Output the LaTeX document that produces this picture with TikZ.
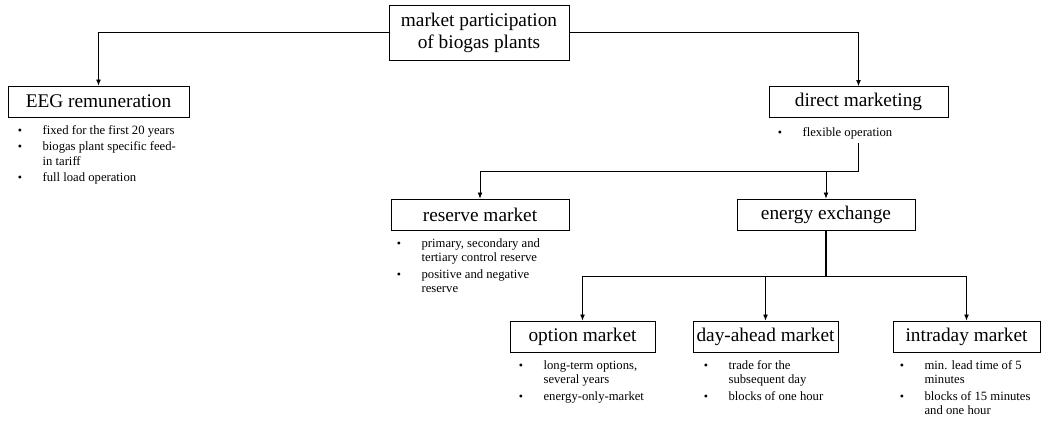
\documentclass[tikz,border=0pt]{standalone}
\usepackage{fontspec}
\setmainfont{Liberation Serif}
\usetikzlibrary{positioning, arrows.meta}

\newcommand{\bul}{\hspace{0.5pt}{\fontsize{9}{9}\selectfont\textbullet}}

\begin{document}
\begin{tikzpicture}[x=0.75pt, y=-0.75pt,
    >={Latex[length=4.5pt, width=3.6pt]},
    box/.style={rectangle, draw, line width=0.6pt, minimum height=23.25pt, inner sep=1pt, font=\fontsize{14.5}{16.5}\selectfont},
    bullets/.style={anchor=north west, inner sep=0pt, font=\fontsize{9.5}{10.6}\selectfont},
    link/.style={line width=0.6pt},
    stem/.style={line width=1.1pt}]
    \useasboundingbox (0,0) rectangle (1041,423);

    % boxes
    \node[box, minimum width=135pt, minimum height=41.25pt, align=center] (market) at (479, 32.5) {market participation\\of biogas plants};
    \node[box, minimum width=135.75pt] (eeg) at (98.5, 101.5) {EEG remuneration};
    \node[box, minimum width=134.25pt] (direct) at (858.5, 102) {direct marketing};
    \node[box, minimum width=133.5pt] (reserve) at (480, 214.5) {reserve market};
    \node[box, minimum width=133.5pt] (exchange) at (826, 214.5) {energy exchange};
    \node[box, minimum width=108.75pt] (option) at (582.5, 336.5) {option market};
    \node[box, minimum width=108.75pt] (dayahead) at (765.5, 336.5) {day-ahead market};
    \node[box, minimum width=110.25pt] (intraday) at (966.5, 336.5) {intraday market};

    % bullet lists
    \node[bullets] (eeglist) at (17, 124) {\begin{tabular}{@{}p{19pt}@{}l@{}}
      \bul & fixed for the first 20 years\\[2pt]
      \bul & biogas plant specific feed-\\
           & in tariff\\[2pt]
      \bul & full load operation
    \end{tabular}};
    \node[bullets] (directlist) at (777, 126) {\begin{tabular}{@{}p{19pt}@{}l@{}}
      \bul & flexible operation
    \end{tabular}};
    \node[bullets] (reservelist) at (396, 237) {\begin{tabular}{@{}p{19pt}@{}l@{}}
      \bul & primary, secondary and\\
           & tertiary control reserve\\[2pt]
      \bul & positive and negative\\
           & reserve
    \end{tabular}};
    \node[bullets] (optionlist) at (518, 359) {\begin{tabular}{@{}p{19pt}@{}l@{}}
      \bul & long-term options,\\
           & several years\\[2pt]
      \bul & energy-only-market
    \end{tabular}};
    \node[bullets] (dayaheadlist) at (703, 359) {\begin{tabular}{@{}p{19pt}@{}l@{}}
      \bul & trade for the\\
           & subsequent day\\[2pt]
      \bul & blocks of one hour
    \end{tabular}};
    \node[bullets] (intradaylist) at (899, 359) {\begin{tabular}{@{}p{19pt}@{}l@{}}
      \bul & min. lead time of 5\\
           & minutes\\[2pt]
      \bul & blocks of 15 minutes\\
           & and one hour
    \end{tabular}};

    % connectors
    \coordinate (directout) at (858.5, 143);
    \coordinate (split1) at (858.5, 171);
    \coordinate (split2) at (826, 276);
    \draw[link, ->] (market.west) -| (eeg.north);
    \draw[link, ->] (market.east) -| (direct.north);
    \draw[stem] (directout) -- (split1);
    \draw[link, ->] (split1) -| (reserve.north);
    \draw[link, ->] (split1 -| exchange.north) -- (exchange.north);
    \draw[stem] (exchange.south) -- (split2);
    \draw[link, ->] (split2) -| (option.north);
    \draw[link, ->] (split2) -| (dayahead.north);
    \draw[link, ->] (split2) -| (intraday.north);
\end{tikzpicture}
\end{document}
